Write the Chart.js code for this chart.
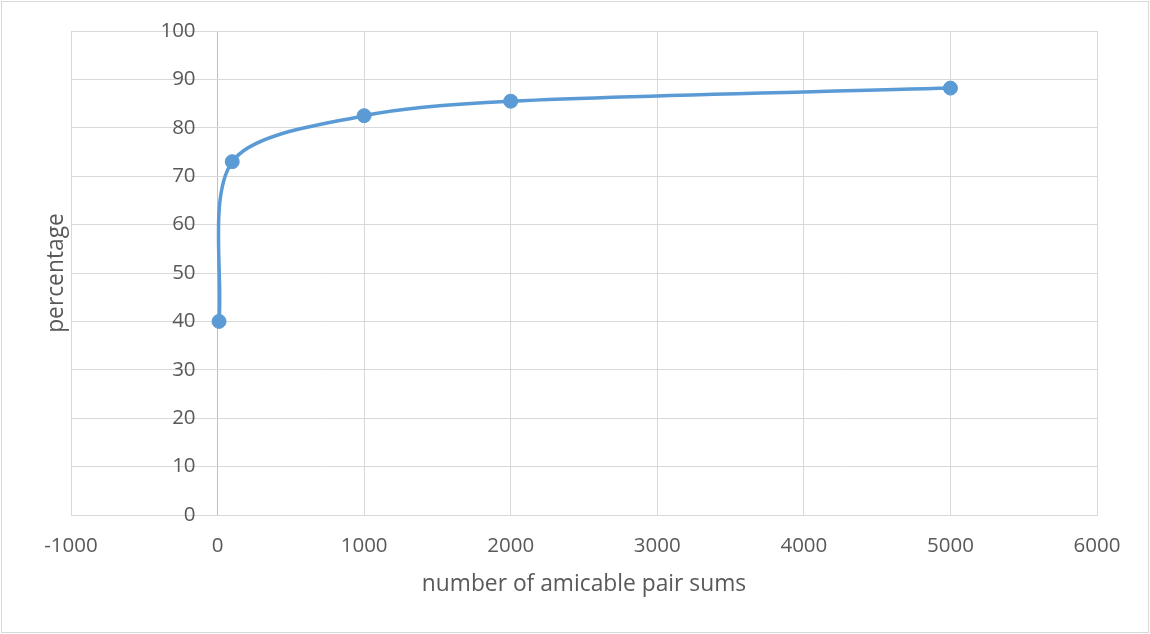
<!DOCTYPE html>
<html>
<head>
<meta charset="utf-8">
<script src="https://cdn.jsdelivr.net/npm/chart.js@4"></script>
<style>
  body { margin: 0; background: #fff; }
  #wrap { width: 1150px; height: 634px; }
</style>
</head>
<body>
<div id="wrap"><canvas id="chart"></canvas></div>
<script>
const sums = [10, 100, 1000, 2000, 5000];
const percentages = [40, 73, 82.5, 85.5, 88.2];
const xTitle = "number of amicable pair sums";
const yTitle = "percentage";

const TEXT = "#595959";
const GRID = "#d9d9d9";
const AXIS = "#bfbfbf";
const BLUE = "#5b9bd5";
const FONT = "'Open Sans', sans-serif";

const points = sums.map((x, i) => ({ x, y: percentages[i] }));

// outer frame like the excel chart box
const frame = {
  id: "frame",
  beforeDraw(chart) {
    const c = chart.ctx;
    c.save();
    c.fillStyle = "#fff";
    c.fillRect(0, 0, chart.width, chart.height);
    c.strokeStyle = GRID;
    c.lineWidth = 1;
    c.strokeRect(1.5, 1.5, chart.width - 3, chart.height - 3);
    c.restore();
  },
};

const ctx = document.getElementById("chart").getContext("2d");

new Chart(ctx, {
  type: "scatter",
  data: {
    datasets: [
      {
        data: points,
        showLine: true,
        tension: 0.3,
        borderColor: BLUE,
        backgroundColor: BLUE,
        borderWidth: 3.5,
        pointRadius: 7,
        pointBorderWidth: 1,
        pointBorderColor: BLUE,
        pointBackgroundColor: BLUE,
        yAxisID: "y",
      },
    ],
  },
  options: {
    responsive: true,
    maintainAspectRatio: false,
    animation: false,
    layout: { padding: { left: 0, right: 53, top: 31, bottom: 0 } },
    plugins: { legend: { display: false }, tooltip: { enabled: false } },
    scales: {
      x: {
        type: "linear",
        min: -1000,
        max: 6000,
        grid: {
          color: (c) => (c.tick && c.tick.value === 0 ? AXIS : GRID),
          lineWidth: 1,
          drawTicks: false,
        },
        border: { color: GRID },
        ticks: {
          stepSize: 1000,
          color: TEXT,
          padding: 19,
          font: { family: FONT, size: 20.5 },
          callback: (v) => String(v),
        },
        title: {
          display: true,
          text: xTitle,
          color: TEXT,
          font: { family: FONT, size: 22.8 },
          padding: { top: 0, bottom: 36 },
        },
        afterFit(scale) {
          scale.height = 119;
        },
      },
      yGrid: {
        type: "linear",
        position: "left",
        min: 0,
        max: 100,
        grid: { color: GRID, lineWidth: 1, drawTicks: false },
        border: { display: false },
        ticks: { stepSize: 10, display: false },
        title: {
          display: true,
          text: yTitle,
          color: TEXT,
          font: { family: FONT, size: 22.8 },
          padding: { top: 43, bottom: 0 },
        },
        afterFit(scale) {
          scale.width = 71;
        },
      },
      y: {
        type: "linear",
        // labels sit a little left of the x=0 line
        position: { x: -150 },
        min: 0,
        max: 100,
        grid: { display: false, drawTicks: false },
        border: { display: false },
        ticks: {
          stepSize: 10,
          color: TEXT,
          font: { family: FONT, size: 20.5 },
          callback: (v) => String(v),
        },
      },
    },
  },
  plugins: [frame],
});
</script>
</body>
</html>
